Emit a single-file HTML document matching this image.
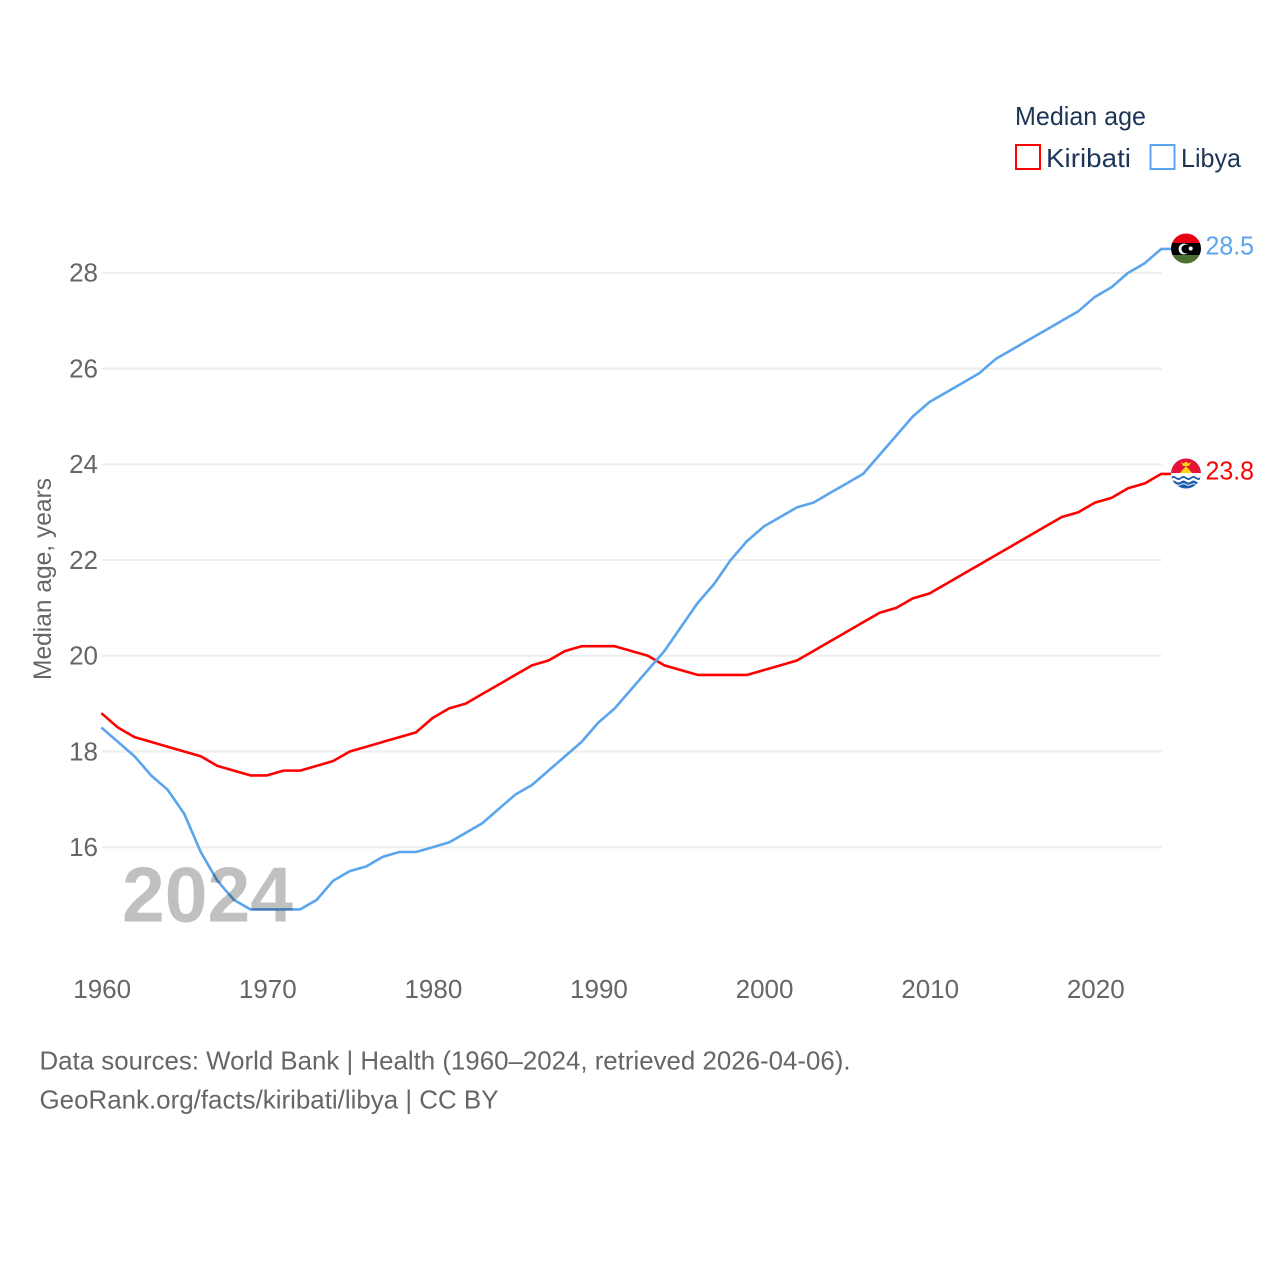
<!DOCTYPE html>
<html lang="en">
<head>
<meta charset="utf-8">
<title>Median age: Kiribati and Libya</title>
<style>
html,body{margin:0;padding:0;background:#fff;}
svg{display:block;font-family:"Liberation Sans",sans-serif;}
</style>
</head>
<body>
<svg id="chart" width="1280" height="1280" viewBox="0 0 1280 1280" xmlns="http://www.w3.org/2000/svg">
<defs>
<clipPath id="flag-clip-libya"><circle cx="1186" cy="248.5" r="15"/></clipPath>
<clipPath id="flag-clip-kiribati"><circle cx="1186" cy="473.5" r="15"/></clipPath>
</defs>
<rect width="1280" height="1280" fill="#fff"/>
<g id="grid"></g>
<g id="yticks"></g>
<g id="xticks"></g>
<text transform="translate(51 680) rotate(-90)" font-size="25" fill="#666" textLength="202" lengthAdjust="spacingAndGlyphs">Median age, years</text>
<g id="lines"></g>
<text x="122" y="921.5" font-size="78" font-weight="bold" fill="#c0c0c0" textLength="171" lengthAdjust="spacingAndGlyphs" style="mix-blend-mode:multiply">2024</text>

<g>
<text x="1015" y="125" font-size="26" fill="#1d3557" textLength="131" lengthAdjust="spacingAndGlyphs">Median age</text>
<rect x="1016" y="145" width="24" height="24" fill="#fff" stroke="#ff0000" stroke-width="2"/>
<text x="1046" y="167" font-size="26" fill="#1d3557" textLength="85" lengthAdjust="spacingAndGlyphs">Kiribati</text>
<rect x="1150.5" y="145" width="24" height="24" fill="#fff" stroke="#5ba4ee" stroke-width="2"/>
<text x="1181" y="167" font-size="26" fill="#1d3557" textLength="60" lengthAdjust="spacingAndGlyphs">Libya</text>
</g>

<g clip-path="url(#flag-clip-libya)">
<rect x="1171" y="233" width="30" height="10" fill="#e70013"/>
<rect x="1171" y="243" width="30" height="12" fill="#000"/>
<rect x="1171" y="255" width="30" height="9" fill="#4a7031"/>
<circle cx="1184" cy="249" r="5.4" fill="#fff"/>
<circle cx="1185.8" cy="249" r="4.4" fill="#000"/>
<circle cx="1190.7" cy="248.5" r="2" fill="#fff"/>
</g>
<g clip-path="url(#flag-clip-kiribati)">
<rect x="1171" y="458" width="30" height="16" fill="#e3133a"/>
<polygon points="1179,474 1186,466 1193,474" fill="#fcd116"/>
<path d="M1181 462l2.5 1.5 2.5-2 2.5 2 2.5-1.5-2 4h-6z" fill="#fcd116"/>
<rect x="1171" y="473" width="30" height="16" fill="#fff"/>
<path d="M1171 477q2.5-2 5 0t5 0 5 0 5 0 5 0 5 0v2q-2.5 2-5 0t-5 0-5 0-5 0-5 0-5 0z" fill="#1c5cab"/>
<path d="M1171 481.5q2.5-2 5 0t5 0 5 0 5 0 5 0 5 0v9h-30z" fill="#1c5cab"/>
<path d="M1171 484.5q2.5-1.5 5 0t5 0 5 0 5 0 5 0 5 0" fill="none" stroke="#fff" stroke-width="1"/>
</g>

<text x="1205.5" y="254.5" font-size="25.5" fill="#5ba4ee" textLength="48.5" lengthAdjust="spacingAndGlyphs">28.5</text>
<text x="1205.5" y="479.5" font-size="25.5" fill="#ff0000" textLength="48.5" lengthAdjust="spacingAndGlyphs">23.8</text>

<text x="39.5" y="1069.5" font-size="26" fill="#666" textLength="811" lengthAdjust="spacingAndGlyphs">Data sources: World Bank | Health (1960–2024, retrieved 2026-04-06).</text>
<text x="39.5" y="1108.5" font-size="26" fill="#666" textLength="459" lengthAdjust="spacingAndGlyphs">GeoRank.org/facts/kiribati/libya | CC BY</text>
</svg>
<script>
const startYear = 1960;
const xTickLabels = [1960, 1970, 1980, 1990, 2000, 2010, 2020];
const yTickLabels = [16, 18, 20, 22, 24, 26, 28];
const kiribatiValues = [18.8,18.5,18.3,18.2,18.1,18.0,17.9,17.7,17.6,17.5,17.5,17.6,17.6,17.7,17.8,18.0,18.1,18.2,18.3,18.4,18.7,18.9,19.0,19.2,19.4,19.6,19.8,19.9,20.1,20.2,20.2,20.2,20.1,20.0,19.8,19.7,19.6,19.6,19.6,19.6,19.7,19.8,19.9,20.1,20.3,20.5,20.7,20.9,21.0,21.2,21.3,21.5,21.7,21.9,22.1,22.3,22.5,22.7,22.9,23.0,23.2,23.3,23.5,23.6,23.8];
const libyaValues = [18.5,18.2,17.9,17.5,17.2,16.7,15.9,15.3,14.9,14.7,14.7,14.7,14.7,14.9,15.3,15.5,15.6,15.8,15.9,15.9,16.0,16.1,16.3,16.5,16.8,17.1,17.3,17.6,17.9,18.2,18.6,18.9,19.3,19.7,20.1,20.6,21.1,21.5,22.0,22.4,22.7,22.9,23.1,23.2,23.4,23.6,23.8,24.2,24.6,25.0,25.3,25.5,25.7,25.9,26.2,26.4,26.6,26.8,27.0,27.2,27.5,27.7,28.0,28.2,28.5];

const NS = 'http://www.w3.org/2000/svg';
const xScale = year => 101.4 + (year - 1960) * (1161.2 - 101.4) / 64;
const yScale = value => 847.2 - (value - 16) * (847.2 - 272.9) / 12;

function make(tag, attrs, parent) {
  const el = document.createElementNS(NS, tag);
  for (const k in attrs) el.setAttribute(k, attrs[k]);
  parent.appendChild(el);
  return el;
}

const gridGroup = document.getElementById('grid');
const yGroup = document.getElementById('yticks');
const xGroup = document.getElementById('xticks');
const lineGroup = document.getElementById('lines');

yTickLabels.forEach(v => {
  const line = make('line', {x1: 102, x2: 1161.7, y1: yScale(v), y2: yScale(v), stroke: '#eeeeee', 'stroke-width': 2}, gridGroup);
  
  
  const t = make('text', {x: 98, y: yScale(v) + 8.8, 'text-anchor': 'end', 'font-size': 26, fill: '#666'}, yGroup);
  
  
  t.textContent = v;
});

xTickLabels.forEach(y => {
  const t = make('text', {x: xScale(y) + 0.8, y: 998, 'text-anchor': 'middle', 'font-size': 26, fill: '#666'}, xGroup);
  
  
  t.textContent = y;
});

function drawSeries(values, color) {
  const pts = values.map((v, i) => xScale(startYear + i).toFixed(2) + ',' + yScale(v).toFixed(2));
  const last = values[values.length - 1];
  pts.push('1171,' + yScale(last).toFixed(2));
  return make('polyline', {points: pts.join(' '), fill: 'none', stroke: color, 'stroke-width': 2.6, 'stroke-linejoin': 'round'}, lineGroup);
}

const kiribatiLine = drawSeries(kiribatiValues, '#ff0000');


const libyaLine = drawSeries(libyaValues, '#5ba4ee');


</script>
</body>
</html>
